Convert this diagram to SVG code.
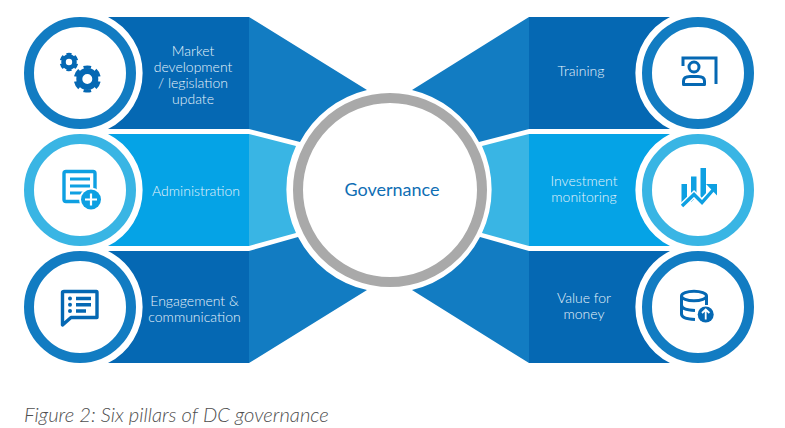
<svg xmlns="http://www.w3.org/2000/svg" width="785" height="428" viewBox="0 0 785 428">
<style>
.dark{fill:#0568b3}.dw{fill:#127cc2}.light{fill:#05a3e6}.lw{fill:#39b5e4}
.rd{fill:#fff;stroke:#127cc2;stroke-width:10}.rl{fill:#fff;stroke:#39b5e4;stroke-width:10}
text{font-family:Lato,"Open Sans",sans-serif}
.t{fill:#e6f3fb;font-size:14px;text-anchor:middle;font-weight:300}
.id{fill:none;stroke:#0568b3}.il{fill:none;stroke:#0ea0e2}
.fd{fill:#0568b3}.fl{fill:#0ea0e2}
</style>
<rect width="785" height="428" fill="#fff"/>
<g id="connectors">
<path class="dw" d="M249,17L367,90A103,103 0 0 0 300,142L249,129Z"/>
<path class="lw" d="M249,134L296,146A103,103 0 0 0 296,233L249,246Z"/>
<path class="dw" d="M249,251L298,237A103,103 0 0 0 367,290L249,363Z"/>
<path class="dw" d="M529,17L412,90A103,103 0 0 1 479,142L529,129Z"/>
<path class="lw" d="M529,134L482,146A103,103 0 0 1 482,233L529,246Z"/>
<path class="dw" d="M529,251L480,237A103,103 0 0 1 412,290L529,363Z"/>
</g>
<g id="node-market">
<path class="dark" d="M108,17H249V129H108A62.6,62.6 0 0 0 108,17Z"/>
<circle class="rd" cx="80" cy="73" r="51"/>
<circle cx="69" cy="62" r="5.5" fill="none" stroke="#0568b3" stroke-width="4.600"/>
<circle cx="69" cy="62" r="8" fill="none" stroke="#0568b3" stroke-width="2.600" pathLength="60" stroke-dasharray="6 4" transform="rotate(12 69 62)"/>
<circle cx="87.300" cy="79" r="8" fill="none" stroke="#0568b3" stroke-width="6"/>
<circle cx="87.300" cy="79" r="12" fill="none" stroke="#0568b3" stroke-width="3.200" pathLength="60" stroke-dasharray="6 4" transform="rotate(12 87.300 79)"/>
<text class="t"><tspan x="193" y="55.500">Market</tspan><tspan x="193" y="71.500">development</tspan><tspan x="193" y="87.500">/ legislation</tspan><tspan x="193" y="103.500">update</tspan></text>
</g>
<g id="node-administration">
<path class="light" d="M108,134H249V246H108A62.6,62.6 0 0 0 108,134Z"/>
<circle class="rl" cx="80" cy="190" r="51"/>
<rect class="il" x="64" y="171.500" width="31" height="30" rx="2" stroke-width="3.400"/>
<path class="il" stroke-width="3" d="M70,179H90M70,186H90M70,193H83"/>
<circle cx="91" cy="199.500" r="11.800" fill="#fff"/>
<circle class="fl" cx="91" cy="199.500" r="10"/>
<path fill="none" stroke="#fff" stroke-width="2.200" d="M85,199.500H97M91,193.500V205.500"/>
<text class="t" x="196" y="196">Administration</text>
</g>
<g id="node-engagement">
<path class="dark" d="M108,251H249V363H108A62.6,62.6 0 0 0 108,251Z"/>
<circle class="rd" cx="80" cy="307" r="51"/>
<path class="id" stroke-width="3.400" stroke-linejoin="round" d="M64,291.500H96.500Q97,291.500 97,292.500V317.500H71L62.500,325V292.500Q62.500,291.500 64,291.500Z"/>
<circle class="fd" cx="70" cy="298.500" r="2"/><circle class="fd" cx="70" cy="304.800" r="2"/><circle class="fd" cx="70" cy="311" r="2"/>
<path class="id" stroke-width="3.400" d="M76,298.500H91M76,304.800H91M76,311H86"/>
<text class="t"><tspan x="194.500" y="305.500">Engagement &amp;</tspan><tspan x="194.500" y="321.500">communication</tspan></text>
</g>
<g id="node-training">
<path class="dark" d="M670,17H529V129H670A62.6,62.6 0 0 1 670,17Z"/>
<circle class="rd" cx="698" cy="73" r="51"/>
<path class="id" stroke-width="3" d="M683,66V58H716V84"/>
<circle class="id" cx="694" cy="67" r="5" stroke-width="3"/>
<path class="id" stroke-width="3" stroke-linejoin="round" d="M683.500,84.500V81Q683.500,76.500 690,76.500H698Q704.500,76.500 704.500,81V84.500Z"/>
<text class="t" x="581" y="76">Training</text>
</g>
<g id="node-investment">
<path class="light" d="M670,134H529V246H670A62.600,62.600 0 0 1 670,134Z"/>
<circle class="rl" cx="698" cy="190" r="51"/>
<path class="fl" d="M681.500,184H687V203L681.500,204ZM691,176.500H696.500V197L691,202ZM700.500,168H706V194L700.500,199Z"/>
<path fill="none" stroke="#fff" stroke-width="6.500" d="M682,206L694,194.500L702,202.500L715,188"/>
<path fill="none" stroke="#0ea0e2" stroke-width="3.400" d="M682,206L694,194.500L702,202.500L713,190"/>
<path class="fl" d="M706,184H717V195.500Z"/>
<text class="t"><tspan x="584" y="186">Investment</tspan><tspan x="584" y="202">monitoring</tspan></text>
</g>
<g id="node-value">
<path class="dark" d="M670,251H529V363H670A62.600,62.600 0 0 1 670,251Z"/>
<circle class="rd" cx="698" cy="307" r="51"/>
<ellipse class="id" cx="694" cy="296" rx="12.500" ry="4.800" stroke-width="3"/>
<path class="id" stroke-width="3" d="M681.500,296V314Q681.500,319 695,319.500M681.500,305Q681.500,310 695,310.500M706.500,296V305"/>
<circle cx="705.700" cy="314.500" r="9.500" fill="#fff"/>
<circle class="fd" cx="705.700" cy="314.500" r="8"/>
<path fill="none" stroke="#fff" stroke-width="1.800" d="M705.700,319.500V310M702,313L705.700,309.500L709.400,313"/>
<text class="t"><tspan x="584" y="303">Value for</tspan><tspan x="584" y="319">money</tspan></text>
</g>
<g id="node-governance">
<circle cx="390" cy="190" r="92" fill="#fff" stroke="#a9a9a9" stroke-width="10"/>
<text x="392" y="196" font-size="18" text-anchor="middle" fill="#0f6eb4">Governance</text>
</g>
<text x="24" y="422" font-size="20.200" font-style="italic" font-weight="300" fill="#4f4f4f">Figure 2: Six pillars of DC governance</text>
</svg>
